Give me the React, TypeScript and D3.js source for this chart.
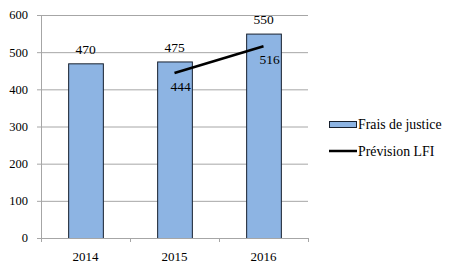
import React from "react";
import * as d3 from "d3";

const categories = ["2014", "2015", "2016"];
const fraisValues = [470, 475, 550];
const lfiCategories = ["2015", "2016"];
const lfiValues = [444, 516];
const yTicks = [0, 100, 200, 300, 400, 500, 600];

const W = 459, H = 273;
const M = { left: 41, right: 308, top: 15, bottom: 238 };
const FONT = "Liberation Serif";

export default function App() {
  const x = d3.scaleBand<string>().domain(categories).range([M.left, M.right]).paddingInner(0).paddingOuter(0);
  const y = d3.scaleLinear().domain([0, 600]).range([M.bottom, M.top]);
  const bw = x.bandwidth() * 0.39;
  const cx = (c: string) => (x(c) as number) + x.bandwidth() / 2;
  const line = d3.line<number>().x((_, i) => cx(lfiCategories[i])).y((d) => y(d));
  const tickXs = [...categories.map((c) => x(c) as number), M.right];
  const ts = (size: number) => ({ fontFamily: FONT, fontSize: size });

  return (
    <svg width={W} height={H} style={{ position: "absolute", left: 0, top: 0, background: "#fff" }}>
      {yTicks.map((t) => (
        <g key={t}>
          <line x1={M.left - 4} x2={t === 0 ? M.left : M.right} y1={y(t) + 0.5} y2={y(t) + 0.5} stroke="#A6A6A6" />
          <text x={28} y={y(t)} dy="0.35em" textAnchor="end" style={ts(12.5)} fill="#000">{t}</text>
        </g>
      ))}
      <line x1={M.left + 0.5} x2={M.left + 0.5} y1={M.top} y2={M.bottom} stroke="#A6A6A6" />
      {categories.map((c, i) => (
        <rect key={c} x={cx(c) - bw / 2 + 0.5} y={y(fraisValues[i]) + 0.5} width={bw} height={M.bottom - y(fraisValues[i])}
          fill="#8DB4E3" stroke="#17202E" strokeWidth={1} />
      ))}
      <line x1={M.left} x2={M.right} y1={M.bottom + 0.5} y2={M.bottom + 0.5} stroke="#A6A6A6" />
      {tickXs.map((tx, i) => (
        <line key={i} x1={tx + 0.5} x2={tx + 0.5} y1={M.bottom} y2={M.bottom + 4} stroke="#A6A6A6" />
      ))}
      {categories.map((c) => (
        <text key={c} x={cx(c)} y={256} dy="0.35em" textAnchor="middle" style={ts(13)} fill="#000">{c}</text>
      ))}
      {categories.map((c, i) => (
        <text key={c} x={cx(c)} y={y(fraisValues[i]) - 14.5} dy="0.35em" textAnchor="middle" style={ts(13.5)} fill="#000">{fraisValues[i]}</text>
      ))}
      <path d={line(lfiValues) || ""} fill="none" stroke="#000" strokeWidth={2.5} />
      {lfiCategories.map((c, i) => (
        <text key={c} x={cx(c) + 6} y={y(lfiValues[i]) + 13.5} dy="0.35em" textAnchor="middle" style={ts(13.5)} fill="#000">{lfiValues[i]}</text>
      ))}
      <rect x={329.5} y={121.5} width={27} height={6} fill="#8DB4E3" stroke="#17202E" />
      <text x={358} y={124.5} dy="0.35em" style={ts(13.8)} fill="#000">Frais de justice</text>
      <line x1={329} x2={357} y1={151} y2={151} stroke="#000" strokeWidth={2.5} />
      <text x={358} y={151} dy="0.35em" style={ts(13.8)} fill="#000">Prévision LFI</text>
    </svg>
  );
}
